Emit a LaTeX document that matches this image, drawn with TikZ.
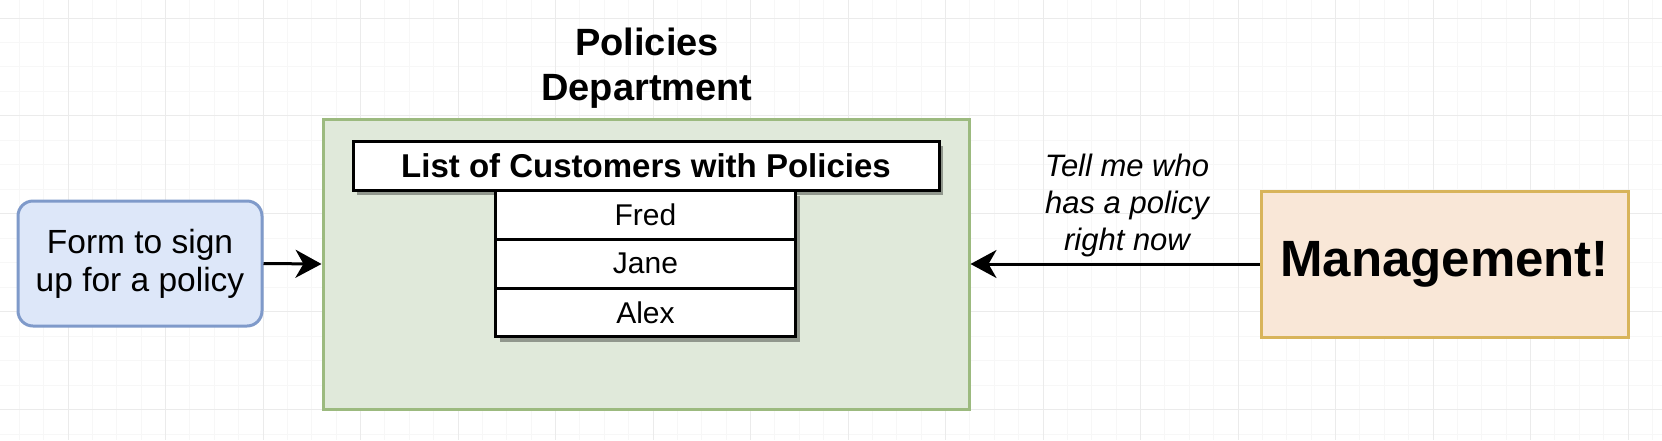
\documentclass[tikz,border=0pt]{standalone}
\usepackage{fontspec}
\setmainfont{Liberation Sans}
\usetikzlibrary{arrows.meta,shadows}
\definecolor{gridminor}{HTML}{F7F7F7}
\definecolor{gridmajor}{HTML}{EBEBEB}
\definecolor{greenfill}{HTML}{E0E9DA}
\definecolor{greenline}{HTML}{9CBA7F}
\definecolor{bluefill}{HTML}{DDE7F9}
\definecolor{blueline}{HTML}{7F9ACA}
\definecolor{orangefill}{HTML}{F9E7D7}
\definecolor{orangeline}{HTML}{D8B45B}
\begin{document}
\begin{tikzpicture}[x=1pt,y=-1pt,
  minorgrid/.style={gridminor,line width=1pt},
  majorgrid/.style={gridmajor,line width=1pt},
  box/.style={draw,line width=3pt,inner sep=0pt,align=center},
  listbox/.style={box,black,fill=white,drop shadow={shadow xshift=4pt,shadow yshift=-5pt,opacity=0.35,fill=black}},
  conn/.style={line width=3pt,-{Stealth[length=26pt,width=28pt,inset=8pt]}}]
\useasboundingbox (0,0) rectangle (1662,440);
\fill[white] (0,0) rectangle (1662,440);
% grid
\foreach \k in {-3,...,66} \draw[minorgrid] ({68+24.375*\k},0) -- ({68+24.375*\k},440);
\foreach \k in {-1,...,17} \draw[minorgrid] (0,{18+24.475*\k}) -- (1662,{18+24.475*\k});
\foreach \k in {-1,...,16} \draw[majorgrid] ({68+97.5*\k},0) -- ({68+97.5*\k},440);
\foreach \k in {0,...,4} \draw[majorgrid] (0,{18+97.9*\k}) -- (1662,{18+97.9*\k});
% title
\node[align=center,font=\bfseries\fontsize{38}{45}\selectfont] (title) at (647,68) {Policies\\Department};
% department
\node[box,draw=greenline,fill=greenfill,minimum width=646pt,minimum height=290pt] (dept) at (646,264) {};
\node[listbox,minimum width=586pt,minimum height=49pt,font=\bfseries\fontsize{33}{38}\selectfont] (head) at (646,165.5) {List of Customers with Policies};
\node[listbox,minimum width=300pt,minimum height=48.7pt,font=\fontsize{30}{36}\selectfont] (fred) at (645.5,215) {Fred};
\node[listbox,minimum width=300pt,minimum height=48.7pt,font=\fontsize{30}{36}\selectfont] (jane) at (645.5,263.7) {Jane};
\node[listbox,minimum width=300pt,minimum height=48.7pt,font=\fontsize{30}{36}\selectfont] (alex) at (645.5,312.4) {Alex};
% form
\node[box,draw=blueline,fill=bluefill,rounded corners=15pt,minimum width=244pt,minimum height=125pt,font=\fontsize{33.5}{38}\selectfont] (form) at (140,263.5) {Form to sign\\up for a policy};
% management
\node[box,draw=orangeline,fill=orangefill,minimum width=367pt,minimum height=146pt,font=\bfseries\fontsize{51}{60}\selectfont] (mgmt) at (1444.5,264) {Management!};
% connectors
\draw[conn] (form.east) -- (dept.west);
\draw[conn] (mgmt.west) -- (dept.east);
\node[align=center,font=\itshape\fontsize{31}{37}\selectfont] (ask) at (1127,205) {Tell me who\\has a policy\\right now};
\end{tikzpicture}
\end{document}
